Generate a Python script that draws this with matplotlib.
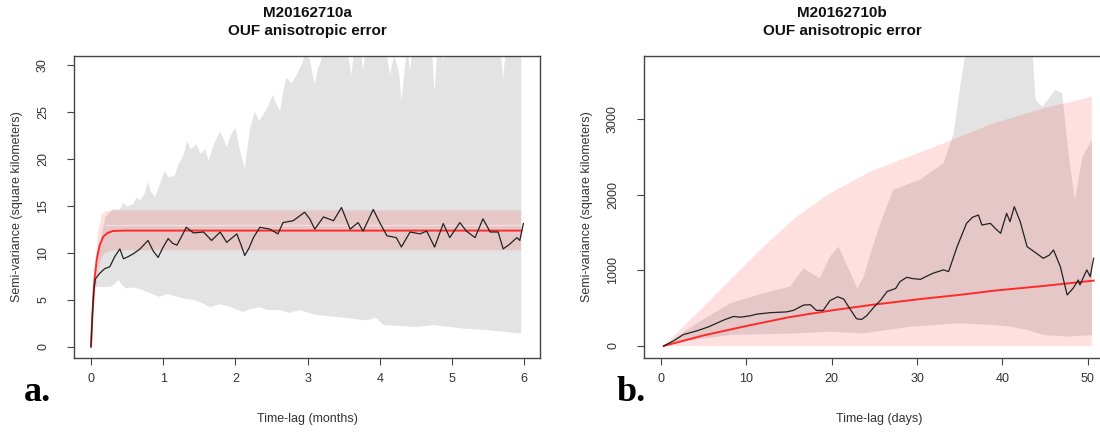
import matplotlib
matplotlib.use("Agg")
import matplotlib.pyplot as plt

# ---- panel a (months) ----
a_gray_up_x = [0.05, 0.1, 0.15, 0.2, 0.3, 0.4, 0.45, 0.5, 0.59, 0.63, 0.68, 0.74, 0.79, 0.83, 0.89,
               0.95, 1.02, 1.08, 1.16, 1.22, 1.28, 1.33, 1.38, 1.46, 1.52, 1.58, 1.63, 1.70, 1.79,
               1.84, 1.88, 1.94, 2.0, 2.06, 2.13, 2.2, 2.27, 2.33, 2.39, 2.45, 2.52, 2.57, 2.62,
               2.67, 2.71, 2.78, 2.85, 2.92, 2.98, 3.03, 3.08, 3.10, 3.14, 3.17, 3.22, 3.3, 3.5,
               3.56, 3.61, 3.65, 3.73, 3.77, 3.81, 4.08, 4.14, 4.2, 4.27, 4.30, 4.34, 4.38, 4.42,
               4.46, 4.72, 4.76, 4.80, 4.88, 4.93, 5.67, 5.71, 5.75, 5.96]
a_gray_up_y = [6.5, 9.5, 12.0, 13.8, 14.6, 14.6, 15.3, 14.9, 15.2, 15.9, 15.5, 16.2, 17.5, 16.5, 15.9,
               17.2, 18.7, 18.0, 18.2, 19.5, 20.3, 21.9, 21.0, 21.5, 20.5, 21.0, 19.8, 21.5, 22.9,
               22.0, 21.2, 22.5, 23.3, 21.0, 18.9, 23.0, 25.0, 24.0, 24.7, 25.5, 26.8, 25.8, 25.0,
               27.5, 28.6, 28.0, 28.9, 30.0, 31.5, 30.5, 28.6, 27.9, 29.5, 30.0, 31.5, 32, 32,
               31, 28.9, 32, 32, 29.3, 32, 32, 28.9, 31, 29, 26.1, 29, 32, 29.3,
               32, 32, 27.0, 32, 30.5, 32, 32, 28.4, 32, 32]
a_gray_lo_x = [0.05, 0.08, 0.26, 0.32, 0.38, 0.44, 0.49, 0.6, 0.72, 0.82, 0.95, 1.05, 1.2, 1.3, 1.42,
               1.55, 1.65, 1.78, 1.9, 2.0, 2.11, 2.2, 2.34, 2.45, 2.6, 2.75, 2.89, 3.1, 3.36, 3.6,
               3.82, 3.95, 4.05, 4.3, 4.51, 4.75, 4.97, 5.2, 5.44, 5.7, 5.96]
a_gray_lo_y = [6.3, 6.35, 6.35, 6.6, 7.1, 6.5, 6.2, 6.3, 6.0, 5.7, 5.3, 5.6, 5.3, 5.1, 5.0,
               4.6, 4.2, 4.5, 4.3, 4.0, 3.7, 4.0, 4.2, 3.9, 3.9, 3.6, 3.9, 3.4, 3.2, 3.0,
               2.8, 3.1, 2.3, 2.2, 2.1, 2.3, 2.1, 1.9, 1.8, 1.6, 1.4]
a_pink_x = [0, 0.03, 0.06, 0.1, 0.15, 0.2, 0.3, 5.96]
a_pink_up = [0, 5.0, 9.0, 12.3, 14.0, 14.4, 14.5, 14.5]
a_pink_lo = [0, 3.0, 5.5, 8.3, 9.5, 10.0, 10.25, 10.25]
a_model_x = [0, 0.01, 0.02, 0.035, 0.05, 0.08, 0.12, 0.17, 0.23, 0.3, 0.45, 5.96]
a_model_y = [0, 1.8, 3.5, 5.6, 7.3, 9.3, 10.8, 11.7, 12.1, 12.3, 12.35, 12.35]
a_emp_x = [0, 0.02, 0.04, 0.06, 0.08, 0.12, 0.19, 0.26, 0.33, 0.40, 0.45, 0.52, 0.59, 0.68, 0.79,
           0.86, 0.93, 1.0, 1.07, 1.13, 1.19, 1.26, 1.32, 1.42, 1.56, 1.67, 1.79, 1.88, 2.02, 2.08,
           2.13, 2.19, 2.25, 2.34, 2.48, 2.59, 2.66, 2.80, 2.96, 3.03, 3.10, 3.22, 3.36, 3.47, 3.59,
           3.70, 3.77, 3.91, 4.0, 4.10, 4.23, 4.30, 4.42, 4.56, 4.65, 4.76, 4.88, 4.97, 5.11, 5.20,
           5.32, 5.43, 5.53, 5.64, 5.71, 5.80, 5.90, 5.94, 5.99]
a_emp_y = [0, 3.5, 6.0, 7.2, 7.4, 7.8, 8.3, 8.5, 9.6, 10.4, 9.35, 9.6, 9.9, 10.4, 11.3,
           10.2, 9.5, 10.6, 11.5, 11.0, 10.8, 11.8, 12.7, 12.1, 12.2, 11.3, 12.2, 11.1, 12.0, 10.8,
           9.7, 10.5, 11.6, 12.7, 12.5, 12.0, 13.2, 13.4, 14.3, 13.6, 12.5, 13.8, 13.4, 14.8, 12.5,
           13.2, 12.3, 14.6, 13.2, 11.8, 11.6, 10.6, 12.2, 12.0, 12.3, 10.6, 13.1, 11.6, 13.2, 12.3,
           11.6, 13.6, 12.2, 12.2, 10.4, 10.9, 11.6, 11.3, 13.1]

# ---- panel b (days) ----
b_pink_x = [0.3, 4.2, 8.1, 12.0, 15.9, 19.8, 24.5, 31.1, 39.0, 44.8, 50.5]
b_pink_up = [0, 432, 872, 1312, 1708, 2017, 2303, 2589, 2942, 3140, 3293]
b_pink_lo = [0, 0, 0, 0, 0, 0, 0, 0, 0, 0, 0]
b_gray_up_x = [0.3, 2.2, 4.2, 8.1, 12.0, 15.1, 16.7, 17.6, 18.6, 19.8, 20.8, 22.2, 23.0, 23.7, 24.5,
               25.7, 27.2, 30.4, 33.1, 34.3, 35.0, 35.8, 43.5, 43.9, 44.7, 46.2, 47.0, 47.8, 48.5,
               49.4, 50.5]
b_gray_up_y = [0, 150, 300, 564, 696, 784, 1026, 960, 894, 1180, 1312, 960, 760, 900, 1200,
               1620, 2060, 2200, 2413, 2810, 3382, 3950, 3950, 3250, 3160, 3380, 3340, 2500, 1930,
               2500, 2720]
b_gray_lo_x = [0.3, 2.2, 8.1, 15.9, 19.8, 23.7, 29.2, 35.0, 39.0, 41.0, 42.9, 44.9, 47.6, 50.5]
b_gray_lo_y = [0, 57, 145, 167, 189, 167, 255, 300, 277, 255, 211, 145, 123, 145]
b_model_x = [0.3, 5, 10, 15, 20, 24.5, 30, 35, 39, 45, 50.7]
b_model_y = [0, 140, 264, 380, 470, 540, 615, 675, 730, 795, 863]
b_emp_x = [0.3, 1.5, 2.6, 4.2, 5.5, 6.5, 7.5, 8.5, 9.3, 10.5, 11.2, 12.0, 12.8, 14.7, 15.5, 16.7,
           17.5, 18.2, 19.0, 19.8, 20.7, 21.4, 22.2, 22.9, 23.5, 24.1, 25.0, 25.7, 26.5, 27.5, 28.0,
           28.8, 29.5, 30.4, 31.1, 31.9, 33.1, 33.7, 34.7, 35.8, 36.5, 37.2, 37.6, 38.6, 39.2, 39.8,
           40.5, 40.9, 41.4, 42.1, 42.9, 44.0, 44.8, 45.5, 46.0, 46.8, 47.6, 48.3, 48.9, 49.1, 49.9,
           50.3, 50.7]
b_emp_y = [0, 70, 150, 200, 250, 300, 350, 390, 380, 400, 420, 430, 440, 450, 470, 540,
           545, 470, 470, 600, 650, 620, 480, 360, 350, 400, 520, 600, 720, 760, 850,
           907, 890, 880, 920, 962, 1005, 983, 1312, 1620, 1700, 1730, 1598, 1620, 1550, 1488,
           1752, 1642, 1840, 1642, 1312, 1224, 1158, 1200, 1268, 1048, 674, 762, 872, 806, 1005,
           916, 1158]

GRAY = "#e3e3e3"
PINK = (1.0, 0.0, 0.0, 0.12)
AXC = "#444444"
TXT = "#333333"
SERIF = ["Liberation Serif", "DejaVu Serif"]


def band(ax, xu, yu, xl, yl, **kw):
    ax.fill(list(xu) + list(xl)[::-1], list(yu) + list(yl)[::-1], lw=0, **kw)


def style(ax):
    for s in ax.spines.values():
        s.set_color(AXC)
        s.set_linewidth(1.0)
    ax.tick_params(colors=AXC, labelcolor=TXT, labelsize=9, length=5, width=0.8, pad=6)
    ax.tick_params(axis="y", pad=13)
    for lab in ax.get_yticklabels():
        lab.set_rotation(90)
        lab.set_va("center")


plt.rcParams["font.family"] = ["Liberation Sans", "DejaVu Sans"]
fig = plt.figure(figsize=(11, 4.32), dpi=100)

# panel a
ax1 = fig.add_axes([0.0673, 0.1713, 0.4236, 0.6998])
band(ax1, a_gray_up_x, a_gray_up_y, a_gray_lo_x, a_gray_lo_y, color=GRAY)
band(ax1, a_pink_x, a_pink_up, a_pink_x, a_pink_lo, color=PINK)
ax1.plot([a_pink_x[-3], a_pink_x[-1]], [12.9, 12.9], color="#f2e0e0", lw=0.8)
ax1.plot(a_model_x, a_model_y, color="#ff2a2a", lw=1.4)
ax1.plot(a_emp_x, a_emp_y, color="#222222", lw=0.9)
ax1.set_xlim(-0.235, 6.22)
ax1.set_ylim(-1.2, 30.95)
ax1.set_xticks(range(0, 7))
ax1.set_yticks(range(0, 31, 5))
style(ax1)
ax1.set_xlabel("Time-lag (months)", fontsize=9, color=TXT, labelpad=20)
ax1.set_ylabel("Semi-variance (square kilometers)", fontsize=9, color=TXT, labelpad=10)

# panel b
ax2 = fig.add_axes([0.5855, 0.1713, 0.4273, 0.6998])
band(ax2, b_gray_up_x, b_gray_up_y, b_gray_lo_x, b_gray_lo_y, color=GRAY)
band(ax2, b_pink_x, b_pink_up, b_pink_x, b_pink_lo, color=PINK)
ax2.plot(b_model_x, b_model_y, color="#ff2a2a", lw=1.4)
ax2.plot(b_emp_x, b_emp_y, color="#222222", lw=0.9)
ax2.set_xlim(-2.0, 53.1)
ax2.set_ylim(-159, 3835)
ax2.set_xticks(range(0, 51, 10))
ax2.set_yticks([0, 1000, 2000, 3000])
style(ax2)
ax2.set_xlabel("Time-lag (days)", fontsize=9, color=TXT, labelpad=20)
ax2.set_ylabel("Semi-variance (square kilometers)", fontsize=9, color=TXT, labelpad=10)

for cx, name in [(307 / 1100, "M20162710a"), (842 / 1100, "M20162710b")]:
    fig.text(cx, 1 - 6 / 432, name + "\nOUF anisotropic error", fontsize=11,
             fontweight="bold", color="#111111", ha="center", va="top", linespacing=1.4)

fig.text(0.034, 0.072, "a.", fontsize=26, fontweight="bold", family=SERIF, ha="center")
fig.text(0.574, 0.072, "b.", fontsize=26, fontweight="bold", family=SERIF, ha="center")

fig.savefig("out.png", dpi=100)
